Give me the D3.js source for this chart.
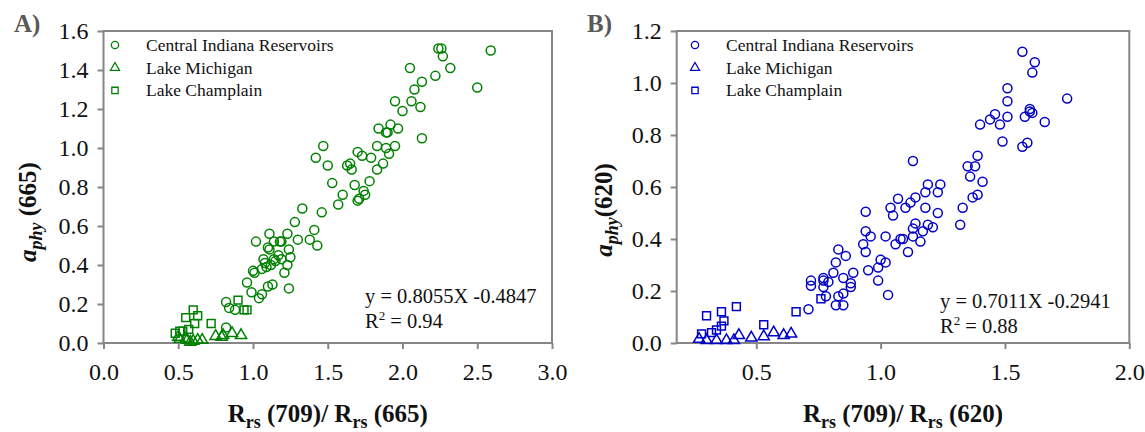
<!DOCTYPE html>
<html>
<head>
<meta charset="utf-8">
<script src="https://cdn.jsdelivr.net/npm/d3@7"></script>
<style>
  body { margin: 0; background: #fff; }
  svg text { font-family: "Liberation Serif", "Times New Roman", serif !important; }
</style>
</head>
<body>
<svg id="chart" width="1145" height="432"></svg>
<script>
// Panel A: a_phy(665) vs Rrs(709)/Rrs(665)
const aIndiana = [
  [2.24,1.51],[2.26,1.51],[2.27,1.47],[2.59,1.50],[2.32,1.41],[2.05,1.41],[2.22,1.37],[2.13,1.34],
  [2.08,1.30],[2.50,1.31],[1.95,1.24],[2.06,1.24],[2.12,1.21],[2.00,1.19],[1.84,1.10],[1.92,1.12],
  [1.89,1.08],[1.90,1.08],[1.97,1.10],[2.13,1.05],[1.47,1.01],[1.42,0.95],[1.50,0.91],[1.83,1.01],
  [1.89,1.00],[1.95,1.01],[1.91,0.97],[1.70,0.98],[1.73,0.96],[1.79,0.95],[1.87,0.92],[1.83,0.89],
  [1.63,0.91],[1.65,0.92],[1.66,0.89],[1.53,0.82],[1.68,0.81],[1.78,0.83],[1.74,0.78],[1.60,0.76],
  [1.71,0.74],[1.57,0.71],[1.70,0.73],[1.75,0.76],[1.33,0.69],[1.46,0.67],[1.28,0.62],[1.23,0.56],
  [1.41,0.58],[1.38,0.53],[1.43,0.50],[1.30,0.53],[1.19,0.52],[1.24,0.48],[1.25,0.44],[1.19,0.43],
  [1.23,0.40],[1.21,0.36],[1.24,0.28],[1.02,0.52],[1.11,0.56],[1.14,0.52],[1.18,0.52],[1.10,0.49],
  [1.11,0.48],[1.17,0.45],[1.07,0.43],[1.14,0.43],[1.15,0.42],[1.08,0.41],[1.12,0.40],[1.06,0.38],
  [1.09,0.39],[1.00,0.37],[1.01,0.36],[0.96,0.31],[0.99,0.26],[1.10,0.29],[1.13,0.30],[1.06,0.25],
  [1.04,0.23],[0.82,0.21],[0.84,0.18],[0.88,0.17],[0.82,0.08]
];
const aMichigan = [
  [0.50,0.03],[0.51,0.02],[0.55,0.02],[0.56,0.015],[0.58,0.005],[0.60,0.01],[0.63,0.015],
  [0.66,0.015],[0.75,0.035],[0.79,0.03],[0.80,0.04],[0.86,0.05],[0.92,0.04]
];
const aChamplain = [
  [0.90,0.22],[0.94,0.17],[0.96,0.17],[0.60,0.17],[0.55,0.13],[0.63,0.14],[0.61,0.10],[0.72,0.10],
  [0.57,0.07],[0.51,0.06],[0.48,0.05],[0.53,0.06]
];

// Panel B: a_phy(620) vs Rrs(709)/Rrs(620)
const bIndiana = [
  [1.57,1.12],[1.62,1.08],[1.61,1.04],[1.51,0.98],[1.75,0.94],[1.51,0.93],[1.60,0.90],[1.60,0.89],
  [1.61,0.885],[1.58,0.87],[1.66,0.85],[1.46,0.88],[1.44,0.86],[1.51,0.87],[1.48,0.84],[1.40,0.84],
  [1.49,0.775],[1.57,0.755],[1.59,0.77],[1.13,0.70],[1.39,0.72],[1.35,0.68],[1.38,0.68],[1.36,0.64],
  [1.41,0.62],[1.19,0.61],[1.24,0.61],[1.18,0.58],[1.23,0.58],[1.07,0.555],[1.14,0.56],[1.37,0.56],
  [1.39,0.57],[1.04,0.52],[1.10,0.52],[1.12,0.54],[1.18,0.52],[1.33,0.52],[0.94,0.505],[1.05,0.49],
  [1.23,0.50],[1.32,0.455],[1.14,0.46],[1.13,0.44],[1.19,0.455],[1.21,0.445],[1.17,0.43],[0.94,0.43],
  [0.96,0.41],[1.02,0.41],[1.08,0.40],[1.09,0.40],[1.13,0.41],[1.16,0.39],[1.06,0.38],[1.11,0.35],
  [0.93,0.38],[0.94,0.35],[1.00,0.32],[1.02,0.31],[0.99,0.29],[0.95,0.28],[0.99,0.24],[1.03,0.185],
  [0.86,0.335],[0.83,0.36],[0.82,0.31],[0.89,0.27],[0.85,0.25],[0.88,0.23],[0.88,0.215],[0.81,0.27],
  [0.77,0.25],[0.77,0.24],[0.79,0.235],[0.72,0.24],[0.72,0.22],[0.77,0.215],[0.78,0.18],[0.82,0.145],
  [0.83,0.18],[0.85,0.19],[0.85,0.145],[0.71,0.13]
];
const bMichigan = [
  [0.27,0.015],[0.30,0.01],[0.34,0.01],[0.38,0.01],[0.41,0.01],[0.43,0.03],[0.48,0.02],
  [0.53,0.025],[0.57,0.04],[0.61,0.03],[0.64,0.035]
];
const bChamplain = [
  [0.76,0.17],[0.66,0.12],[0.42,0.14],[0.36,0.12],[0.37,0.085],[0.36,0.065],[0.30,0.105],
  [0.53,0.07],[0.34,0.05],[0.32,0.04],[0.28,0.035]
];

const seriesNames = ["Central Indiana Reservoirs", "Lake Michigan", "Lake Champlain"];
const aXTicks = [0, 0.5, 1.0, 1.5, 2.0, 2.5, 3.0];
const aYTicks = [0, 0.2, 0.4, 0.6, 0.8, 1.0, 1.2, 1.4, 1.6];
const bXTicks = [0.5, 1.0, 1.5, 2.0];
const bYTicks = [0, 0.2, 0.4, 0.6, 0.8, 1.0, 1.2];

const svg = d3.select("#chart");
const AXIS = "#868686";
const shapes = [d3.symbolCircle, d3.symbolTriangle, d3.symbolSquare];
const sizes = [64, 54, 62];

const drawPanel = p => {
  const x = d3.scaleLinear().domain(p.xDomain).range([p.left, p.right]);
  const y = d3.scaleLinear().domain(p.yDomain).range([p.bottom, p.top]);
  const g = svg.append("g");

  g.append("rect")
    .attr("x", p.left).attr("y", p.top)
    .attr("width", p.right - p.left).attr("height", p.bottom - p.top)
    .attr("fill", "none").attr("stroke", AXIS).attr("stroke-width", 2);

  const xAxis = g.append("g")
    .attr("transform", `translate(0,${p.bottom})`)
    .call(d3.axisBottom(x).tickValues(p.xTicks).tickFormat(d3.format(".1f"))
      .tickSizeOuter(0).tickSize(6).tickPadding(14));
  const yAxis = g.append("g")
    .attr("transform", `translate(${p.left},0)`)
    .call(d3.axisLeft(y).tickValues(p.yTicks).tickFormat(d3.format(".1f"))
      .tickSizeOuter(0).tickSize(6).tickPadding(9));
  [xAxis, yAxis].forEach(ax => {
    ax.attr("font-family", null).attr("font-size", null);
    ax.select(".domain").remove();
    ax.selectAll("line").attr("stroke", AXIS).attr("stroke-width", 2);
    ax.selectAll("text").attr("font-size", 24).attr("fill", "#111");
  });

  // points
  p.series.forEach((data, i) => {
    g.append("g").selectAll("path")
      .data(data)
      .enter()
      .append("path")
      .attr("d", d3.symbol().type(shapes[i]).size(sizes[i]))
      .attr("transform", d => `translate(${x(d[0])},${y(d[1])})`)
      .attr("fill", "none")
      .attr("stroke", p.color)
      .attr("stroke-width", 1.5);
  });

  // legend
  seriesNames.forEach((name, i) => {
    const ly = 45 + i * 22.7;
    g.append("path")
      .attr("d", d3.symbol().type(shapes[i]).size(sizes[i] * 0.65))
      .attr("transform", `translate(${p.legendX},${ly})`)
      .attr("fill", "none").attr("stroke", p.color).attr("stroke-width", 1.3);
    g.append("text")
      .attr("x", p.legendX + 31).attr("y", ly + 6)
      .attr("font-size", 17.5).attr("fill", "#111")
      .text(name);
  });

  // equation
  const eq = g.append("text").attr("font-size", 20.5).attr("fill", "#111");
  eq.append("tspan").attr("x", p.eqX).attr("y", p.eqY).text(p.equation);
  const r2 = g.append("text").attr("x", p.eqX).attr("y", p.eqY + 24.5)
    .attr("font-size", 20.5).attr("fill", "#111");
  r2.append("tspan").text("R");
  r2.append("tspan").attr("font-size", 13).attr("dy", -8).text("2");
  r2.append("tspan").attr("dy", 8).text(" = " + p.r2);

  // panel letter
  g.append("text")
    .attr("x", p.letterX).attr("y", 32)
    .attr("font-size", 25).attr("font-weight", "bold").attr("fill", "#595959")
    .text(p.letter);

  // x title
  const xt = g.append("text")
    .attr("x", (p.left + p.right) / 2).attr("y", 422)
    .attr("text-anchor", "middle")
    .attr("font-size", 25).attr("font-weight", "bold").attr("fill", "#111");
  xt.append("tspan").text("R");
  xt.append("tspan").attr("font-size", 18).attr("dy", 6).text("rs");
  xt.append("tspan").attr("dy", -6).text(" (709)/ R");
  xt.append("tspan").attr("font-size", 18).attr("dy", 6).text("rs");
  xt.append("tspan").attr("dy", -6).text(` (${p.band})`);

  // y title
  const yt = g.append("text")
    .attr("transform", `translate(${p.yTitleX},${p.yTitleY}) rotate(-90)`)
    .attr("text-anchor", "middle")
    .attr("font-size", 25).attr("font-weight", "bold").attr("fill", "#111");
  yt.append("tspan").attr("font-style", "italic").text("a");
  yt.append("tspan").attr("font-style", "italic").attr("font-size", 18).attr("dy", 6).text("phy");
  yt.append("tspan").attr("dy", -6).text(p.yTitleGap + `(${p.band})`);
};

drawPanel({
  left: 103.5, right: 552, top: 31, bottom: 343,
  xDomain: [0, 3], yDomain: [0, 1.6], xTicks: aXTicks, yTicks: aYTicks,
  series: [aIndiana, aMichigan, aChamplain], color: "#008000",
  legendX: 115, eqX: 365, eqY: 303, equation: "y = 0.8055X -0.4847", r2: "0.94",
  letter: "A)", letterX: 14, band: "665", yTitleX: 36, yTitleY: 212, yTitleGap: " "
});

drawPanel({
  left: 676.7, right: 1129.3, top: 31, bottom: 343,
  xDomain: [0.18, 2.0], yDomain: [0, 1.2], xTicks: bXTicks, yTicks: bYTicks,
  series: [bIndiana, bMichigan, bChamplain], color: "#0000c8",
  legendX: 695, eqX: 940, eqY: 308, equation: "y = 0.7011X -0.2941", r2: "0.88",
  letter: "B)", letterX: 587, band: "620", yTitleX: 612, yTitleY: 210, yTitleGap: ""
});
</script>
</body>
</html>
